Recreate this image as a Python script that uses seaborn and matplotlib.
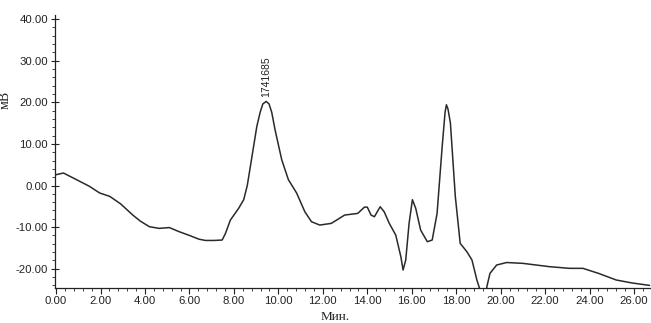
import matplotlib
matplotlib.use("Agg")
import matplotlib.pyplot as plt
import seaborn as sns
import pandas as pd
from matplotlib.ticker import MultipleLocator, FormatStrFormatter

time_min = [0.0, 0.33, 0.92, 1.5, 1.96, 2.41, 2.9, 3.45, 3.8, 4.2, 4.64, 5.09,
            5.54, 6.0, 6.43, 6.72, 7.1, 7.47, 7.62, 7.84, 8.21, 8.44, 8.6, 8.74,
            9.03, 9.18, 9.3, 9.45, 9.58, 9.7, 9.85, 10.15, 10.45, 10.82, 11.19, 11.49,
            11.86, 12.38, 12.98, 13.57, 13.87, 14.0, 14.17, 14.32, 14.58, 14.76,
            14.99, 15.28, 15.51, 15.61, 15.73, 15.88, 16.03, 16.18, 16.4, 16.7,
            16.92, 17.14, 17.37, 17.5, 17.56, 17.63, 17.74, 17.96, 18.18, 18.48,
            18.71, 18.93, 19.05, 19.15, 19.25, 19.32, 19.38, 19.52, 19.82, 20.27,
            21.0, 22.2, 23.1, 23.7, 24.4, 25.2, 25.9, 26.7]
signal_mv = [2.6, 3.0, 1.4, -0.2, -1.8, -2.6, -4.4, -7.1, -8.6, -9.9, -10.3, -10.1,
             -11.1, -12.0, -12.9, -13.2, -13.2, -13.1, -11.5, -8.3, -5.5, -3.4, 0.0, 4.6,
             14.2, 17.6, 19.6, 20.2, 19.6, 17.6, 13.4, 6.2, 1.4, -1.8, -6.3, -8.7,
             -9.5, -9.1, -7.1, -6.7, -5.2, -5.2, -7.1, -7.5, -5.1, -6.3,
             -9.1, -11.9, -17.1, -20.3, -17.9, -9.1, -3.4, -5.5, -10.7, -13.5,
             -13.1, -6.7, 9.4, 17.6, 19.4, 18.4, 15.0, -2.6, -13.9, -15.9,
             -17.9, -22.7, -24.7, -32.0, -36.0, -30.0, -24.3, -21.1, -19.1, -18.5,
             -18.7, -19.5, -19.9, -19.9, -21.1, -22.7, -23.4, -24.0]

peak_time = 9.45
peak_signal = 20.2
peak_label = "1741685"

df = pd.DataFrame({"t": time_min, "mv": signal_mv})

sns.set_style("ticks")
plt.rcParams['font.family'] = ['Liberation Sans', 'DejaVu Sans']

fig = plt.figure(figsize=(6.51, 3.23), dpi=100)
ax = fig.add_axes([0.0845, 0.108, 0.915, 0.846])

sns.lineplot(data=df, x="t", y="mv", ax=ax, color="#2a2a2a", linewidth=1.1,
             sort=False, estimator=None)

ax.set_xlim(-0.05, 26.75)
ax.set_ylim(-24.65, 41.0)

ax.xaxis.set_major_locator(MultipleLocator(2))
ax.xaxis.set_minor_locator(MultipleLocator(0.4))
ax.yaxis.set_major_locator(MultipleLocator(10))
ax.yaxis.set_minor_locator(MultipleLocator(2))
ax.xaxis.set_major_formatter(FormatStrFormatter("%.2f"))
ax.yaxis.set_major_formatter(FormatStrFormatter("%.2f"))

ax.tick_params(axis="both", which="major", labelsize=8.2, length=4, width=0.8,
               color="#222222", labelcolor="#222222", pad=2)
ax.tick_params(axis="both", which="minor", length=2, width=0.6, color="#222222")
ax.tick_params(axis="y", which="major", direction="inout", length=6)

for side in ["top", "right"]:
    ax.spines[side].set_visible(False)
for side in ["left", "bottom"]:
    ax.spines[side].set_color("#222222")
    ax.spines[side].set_linewidth(0.9)

ax.set_xlabel("Мин.", family=["Liberation Serif", "DejaVu Serif"], fontsize=9.5,
              color="#222222")
ax.xaxis.set_label_coords(0.47, -0.085)
ax.set_ylabel("мВ", family=["Liberation Serif", "DejaVu Serif"], fontsize=10,
              color="#222222")
ax.yaxis.set_label_coords(-0.072, 0.69)

ax.annotate(peak_label, xy=(peak_time, peak_signal), xytext=(0, 3),
            textcoords="offset points", rotation=90, ha="center", va="bottom",
            fontsize=7.5, color="#222222")

fig.savefig("out.png", dpi=100)
